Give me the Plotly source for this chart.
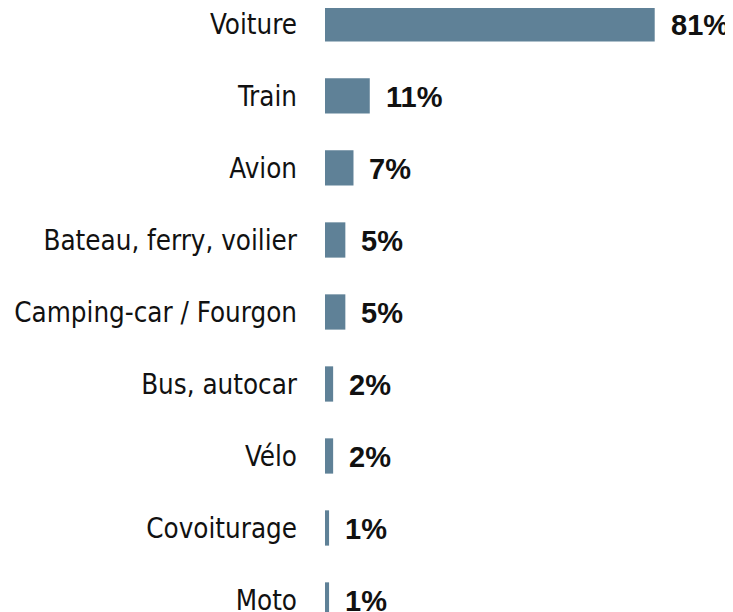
import plotly.graph_objects as go

categories = ["Voiture", "Train", "Avion", "Bateau, ferry, voilier", "Camping-car / Fourgon",
              "Bus, autocar", "Vélo", "Covoiturage", "Moto"]
values = [81, 11, 7, 5, 5, 2, 2, 1, 1]
value_labels = [f"{v}%" for v in values]

BAR_COLOR = "#5f8197"

fig = go.Figure()
fig.add_trace(go.Bar(
    x=values, y=categories, orientation="h",
    marker=dict(color=BAR_COLOR, line=dict(width=0)),
    width=0.49, hoverinfo="skip",
))

for cat, v, lab in zip(categories, values, value_labels):
    fig.add_annotation(x=v, y=cat, text=f"<b>{lab}</b>", showarrow=False,
                       xanchor="left", yanchor="middle", xshift=14, yshift=-1,
                       font=dict(family="Liberation Sans, Arial, sans-serif",
                                 size=29, color="#111111"))

fig.update_layout(
    width=733, height=612,
    margin=dict(l=317, r=0, t=0, b=0),
    paper_bgcolor="white", plot_bgcolor="white",
    showlegend=False,
    xaxis=dict(range=[0, 102.2], visible=False, fixedrange=True),
    yaxis=dict(categoryorder="array", categoryarray=categories,
               range=[8.278, -0.222], showgrid=False, zeroline=False, showline=False,
               ticks="", ticklabelstandoff=27,
               tickfont=dict(family="DejaVu Sans Condensed, DejaVu Sans, sans-serif",
                             size=27.5, color="#111111")),
)

fig.write_html("out.html")
